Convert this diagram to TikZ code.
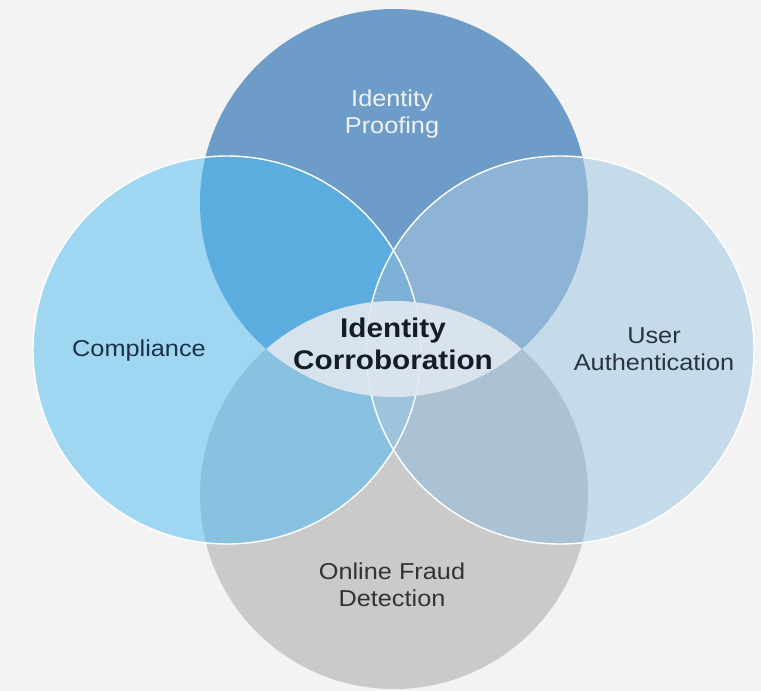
\documentclass[tikz,border=0pt]{standalone}
\usepackage{fontspec}
\setmainfont{Liberation Sans}[FakeStretch=1.1]
\definecolor{bg}{HTML}{F2F3F2}
\definecolor{cT}{HTML}{6E9CC8}
\definecolor{cL}{HTML}{9FD7F2}
\definecolor{cR}{HTML}{C5DBEA}
\definecolor{cB}{HTML}{CACACA}
\definecolor{cTL}{HTML}{5BADE0}
\definecolor{cTR}{HTML}{8DB3D5}
\definecolor{cBL}{HTML}{89C2E1}
\definecolor{cBR}{HTML}{AAC2D3}
\definecolor{cTLR}{HTML}{7EB1D8}
\definecolor{cBLR}{HTML}{9DC4DC}
\definecolor{cLens}{HTML}{DFE7EF}
\definecolor{txtNavy}{HTML}{1B3147}
\definecolor{txtDark}{HTML}{2A3440}
\definecolor{txtGray}{HTML}{333333}
\definecolor{txtCore}{HTML}{141C26}
\definecolor{txtLight}{HTML}{EEF4FA}
\tikzset{
  lbl/.style={align=center, inner sep=0pt, font=\fontsize{23}{27}\selectfont},
  corelbl/.style={align=center, inner sep=0pt, font=\fontsize{27}{32}\selectfont\bfseries},
  rim/.style={draw=white, line width=1.4pt}
}
\begin{document}
\begin{tikzpicture}[x=1pt,y=-1pt]
\useasboundingbox (0,0) rectangle (761,691);
\fill[bg] (0,0) rectangle (761,691);
\def\rr{194}
\coordinate (T) at (394,203);
\coordinate (L) at (227,350);
\coordinate (R) at (560,350);
\coordinate (B) at (394,495);
% base circles
\fill[cT] (T) circle (\rr);
\fill[cL] (L) circle (\rr);
\fill[cR] (R) circle (\rr);
\fill[cB] (B) circle (\rr);
% pairwise overlaps
\begin{scope}\clip (T) circle (\rr); \fill[cTL] (L) circle (\rr); \end{scope}
\begin{scope}\clip (T) circle (\rr); \fill[cTR] (R) circle (\rr); \end{scope}
\begin{scope}\clip (B) circle (\rr); \fill[cBL] (L) circle (\rr); \end{scope}
\begin{scope}\clip (B) circle (\rr); \fill[cBR] (R) circle (\rr); \end{scope}
% triple overlaps
\begin{scope}\clip (T) circle (\rr); \clip (L) circle (\rr); \fill[cTLR] (R) circle (\rr); \end{scope}
\begin{scope}\clip (B) circle (\rr); \clip (L) circle (\rr); \fill[cBLR] (R) circle (\rr); \end{scope}
% white rims of the side circles
\draw[rim] (L) circle (\rr);
\draw[rim] (R) circle (\rr);
% central lens
\begin{scope}\clip (T) circle (\rr); \fill[cLens, fill opacity=0.9] (B) circle (\rr); \end{scope}
% labels
\node[lbl, text=txtLight] (proof) at (392,114) {Identity\\Proofing};
\node[lbl, text=txtNavy] (comp) at (139,351) {Compliance};
\node[lbl, text=txtDark] (auth) at (654,349) {User\\Authentication};
\node[lbl, text=txtGray] (fraud) at (392,585) {Online Fraud\\Detection};
\node[corelbl, text=txtCore] (core) at (393,344) {Identity\\Corroboration};
\end{tikzpicture}
\end{document}
